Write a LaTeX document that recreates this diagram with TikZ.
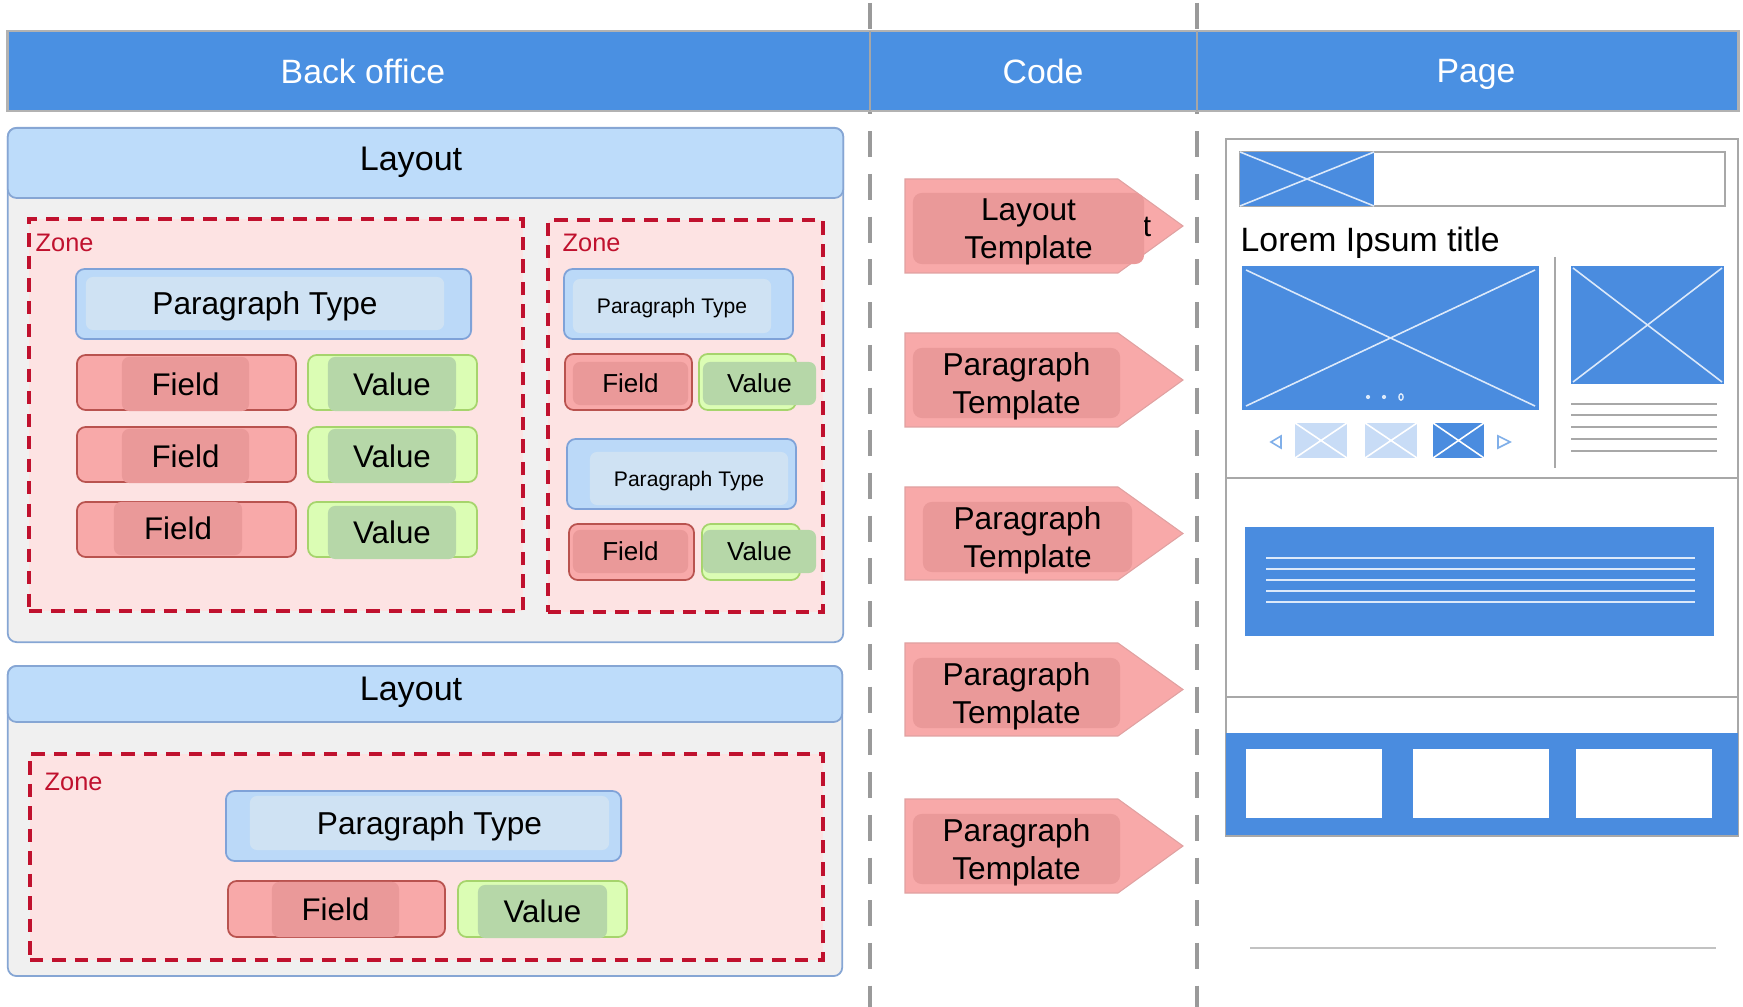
\documentclass[tikz,border=0pt]{standalone}
\usepackage{fontspec}
\setmainfont{Liberation Sans}
\usetikzlibrary{positioning}
\definecolor{hdrblue}{HTML}{4A90E2}
\definecolor{bodygray}{HTML}{F0F0F0}
\definecolor{layoutblue}{HTML}{BDDCFA}
\definecolor{layoutline}{HTML}{86A6D4}
\definecolor{zonepink}{HTML}{FDE3E3}
\definecolor{zonered}{HTML}{C0112E}
\definecolor{ptblue}{HTML}{BBD9F8}
\definecolor{ptlight}{HTML}{CFE2F3}
\definecolor{ptline}{HTML}{7FA2D8}
\definecolor{fieldpink}{HTML}{F8A9A9}
\definecolor{fielddark}{HTML}{EA9999}
\definecolor{fieldline}{HTML}{B9534F}
\definecolor{valuegreen}{HTML}{DBFDB4}
\definecolor{valuedark}{HTML}{B6D7A8}
\definecolor{valueline}{HTML}{A6D46C}
\definecolor{pageblue}{HTML}{4A8CDF}
\definecolor{thumblight}{HTML}{C8DCF6}
\definecolor{crossline}{HTML}{DCE9FA}
\definecolor{pagegray}{HTML}{A8A8A8}
\definecolor{coldashgray}{HTML}{9A9A9A}
\tikzset{
    coldash/.style = {-, line width=1.1pt, coldashgray, dash pattern=on 7.4pt off 4.75pt},
    colsep/.style = {-, line width=0.5pt, gray!70},
    hdrbar/.style = {rectangle, fill=hdrblue, draw=gray!60, line width=0.6pt, inner sep=0pt},
    hdrtext/.style = {text=white, text depth=0pt, font=\fontsize{9.6}{11}\selectfont},
    layoutbody/.style = {rectangle, rounded corners=2.5pt, fill=bodygray, draw=layoutline, line width=0.5pt, inner sep=0pt},
    layouthead/.style = {rectangle, rounded corners=2.5pt, fill=layoutblue, draw=layoutline, line width=0.5pt, inner sep=0pt},
    layouttitle/.style = {text=black, text depth=0pt, font=\fontsize{9.7}{11}\selectfont},
    zonebox/.style = {rectangle, fill=zonepink, draw=zonered, line width=1.1pt, dash pattern=on 3.8pt off 2.6pt, inner sep=0pt},
    zonelabel/.style = {anchor=west, text=zonered, font=\fontsize{7.2}{8}\selectfont, inner sep=0pt},
    ptouter/.style = {rectangle, rounded corners=2.5pt, fill=ptblue, draw=ptline, line width=0.5pt, inner sep=0pt},
    ptinner/.style = {rectangle, rounded corners=2pt, fill=ptlight, inner sep=0pt, text depth=0pt, font=\fontsize{9}{10}\selectfont},
    ptinners/.style = {rectangle, rounded corners=2pt, fill=ptlight, inner sep=0pt, text depth=0pt, font=\fontsize{6}{7}\selectfont},
    fieldouter/.style = {rectangle, rounded corners=2.5pt, fill=fieldpink, draw=fieldline, line width=0.5pt, inner sep=0pt},
    fieldinner/.style = {rectangle, rounded corners=2pt, fill=fielddark, inner sep=0pt, text depth=0pt, font=\fontsize{8.9}{10}\selectfont},
    fieldinners/.style = {rectangle, rounded corners=2pt, fill=fielddark, inner sep=0pt, text depth=0pt, font=\fontsize{7.4}{8}\selectfont},
    valueouter/.style = {rectangle, rounded corners=2.5pt, fill=valuegreen, draw=valueline, line width=0.5pt, inner sep=0pt},
    valueinner/.style = {rectangle, rounded corners=2pt, fill=valuedark, inner sep=0pt, text depth=0pt, font=\fontsize{8.9}{10}\selectfont},
    valueinners/.style = {rectangle, rounded corners=2pt, fill=valuedark, inner sep=0pt, text depth=0pt, font=\fontsize{7.4}{8}\selectfont},
    tplarrow/.style = {fill=fieldpink, draw=fieldpink!80!gray, line width=0.3pt},
    tplinner/.style = {rectangle, rounded corners=2.5pt, fill=fielddark, inner sep=0pt, align=center, text depth=0pt, font=\fontsize{9}{10.7}\selectfont},
    tpltext/.style = {inner sep=0pt, font=\fontsize{8.5}{10}\selectfont},
    pageline/.style = {draw=pagegray, line width=0.6pt},
    textline/.style = {-, draw=pagegray, line width=0.5pt},
    cross/.style = {-, draw=crossline, line width=0.45pt},
    loremtext/.style = {inner sep=0pt, font=\fontsize{9.6}{11}\selectfont}
}
\begin{document}
\begin{tikzpicture}[x=0.01cm, y=-0.01cm]
\useasboundingbox (0,0) rectangle (1743,1007);

% column separators
\draw[coldash] (870,3) -- (870,1007);
\draw[coldash] (1197,3) -- (1197,1007);

% header bar
\node[hdrbar, minimum width=17.30cm, minimum height=0.80cm] at (873,71) (hdr) {};
\draw[colsep] (870,31) -- (870,111);
\draw[colsep] (1197,31) -- (1197,111);
\node[hdrtext] at (363,71) (hdrback) {Back office};
\node[hdrtext] at (1043,71) (hdrcode) {Code};
\node[hdrtext] at (1476,71) (hdrpage) {Page};

% first layout
\node[layoutbody, minimum width=8.35cm, minimum height=5.14cm] at (425.5,385) (lay1) {};
\node[layouthead, minimum width=8.35cm, minimum height=0.70cm] at (425.5,163) (lay1h) {};
\node[layouttitle] at (411,159) (lay1t) {Layout};

\node[zonebox, minimum width=4.94cm, minimum height=3.92cm] at (276,415) (zone1) {};
\node[zonelabel] at (35,243) (zone1l) {Zone};
\node[ptouter, minimum width=3.95cm, minimum height=0.70cm] at (273.5,304) (pt1o) {};
\node[ptinner, minimum width=3.58cm, minimum height=0.53cm] at (265,303.5) (pt1) {Paragraph Type};

\node[fieldouter, minimum width=2.19cm, minimum height=0.55cm] at (186.5,382.5) (f1o) {};
\node[fieldinner, minimum width=1.27cm, minimum height=0.54cm] at (185.5,384) (f1) {Field};
\node[valueouter, minimum width=1.69cm, minimum height=0.55cm] at (392.5,382.5) (v1o) {};
\node[valueinner, minimum width=1.28cm, minimum height=0.54cm] at (392,384) (v1) {Value};

\node[fieldouter, minimum width=2.19cm, minimum height=0.55cm] at (186.5,454.5) (f2o) {};
\node[fieldinner, minimum width=1.27cm, minimum height=0.54cm] at (185.5,456) (f2) {Field};
\node[valueouter, minimum width=1.69cm, minimum height=0.55cm] at (392.5,454.5) (v2o) {};
\node[valueinner, minimum width=1.28cm, minimum height=0.54cm] at (392,456) (v2) {Value};

\node[fieldouter, minimum width=2.19cm, minimum height=0.55cm] at (186.5,529.5) (f3o) {};
\node[fieldinner, minimum width=1.28cm, minimum height=0.53cm] at (178,528.5) (f3) {Field};
\node[valueouter, minimum width=1.69cm, minimum height=0.55cm] at (392.5,529.5) (v3o) {};
\node[valueinner, minimum width=1.28cm, minimum height=0.53cm] at (392,532.5) (v3) {Value};

\node[zonebox, minimum width=2.75cm, minimum height=3.92cm] at (685.5,416) (zone2) {};
\node[zonelabel] at (562,243) (zone2l) {Zone};
\node[ptouter, minimum width=2.29cm, minimum height=0.70cm] at (678.5,304) (pt2o) {};
\node[ptinners, minimum width=1.98cm, minimum height=0.54cm] at (672,306) (pt2) {Paragraph Type};
\node[fieldouter, minimum width=1.27cm, minimum height=0.56cm] at (628.5,382) (f4o) {};
\node[fieldinners, minimum width=1.15cm, minimum height=0.43cm] at (630.5,383.5) (f4) {Field};
\node[valueouter, minimum width=0.97cm, minimum height=0.56cm] at (747.5,382) (v4o) {};
\node[valueinners, minimum width=1.13cm, minimum height=0.43cm] at (759.5,383.5) (v4) {Value};

\node[ptouter, minimum width=2.29cm, minimum height=0.70cm] at (681.5,474) (pt3o) {};
\node[ptinners, minimum width=1.98cm, minimum height=0.53cm] at (689,478.5) (pt3) {Paragraph Type};
\node[fieldouter, minimum width=1.25cm, minimum height=0.56cm] at (631.5,552) (f5o) {};
\node[fieldinners, minimum width=1.15cm, minimum height=0.43cm] at (630.5,551.5) (f5) {Field};
\node[valueouter, minimum width=0.98cm, minimum height=0.56cm] at (751,552) (v5o) {};
\node[valueinners, minimum width=1.13cm, minimum height=0.43cm] at (759.5,551.5) (v5) {Value};

% second layout
\node[layoutbody, minimum width=8.34cm, minimum height=3.10cm] at (425,821) (lay2) {};
\node[layouthead, minimum width=8.34cm, minimum height=0.56cm] at (425,694) (lay2h) {};
\node[layouttitle] at (411,689) (lay2t) {Layout};

\node[zonebox, minimum width=7.93cm, minimum height=2.06cm] at (426.5,857) (zone3) {};
\node[zonelabel] at (44,782) (zone3l) {Zone};
\node[ptouter, minimum width=3.95cm, minimum height=0.70cm] at (423.5,826) (pt4o) {};
\node[ptinner, minimum width=3.59cm, minimum height=0.54cm] at (429.5,823) (pt4) {Paragraph Type};
\node[fieldouter, minimum width=2.17cm, minimum height=0.56cm] at (336.5,909) (f6o) {};
\node[fieldinner, minimum width=1.27cm, minimum height=0.55cm] at (335.5,909.5) (f6) {Field};
\node[valueouter, minimum width=1.69cm, minimum height=0.56cm] at (542.5,909) (v6o) {};
\node[valueinner, minimum width=1.29cm, minimum height=0.53cm] at (542.5,911.5) (v6) {Value};

% templates
\fill[tplarrow] (905,179) -- (1118,179) -- (1183,226) -- (1118,273) -- (905,273) -- cycle;
\node[tpltext] at (1147,227) (tplt) {t};
\node[tplinner, minimum width=2.31cm, minimum height=0.71cm] at (1028.5,228.5) (tpl1) {Layout\\Template};

\fill[tplarrow] (905,333) -- (1118,333) -- (1183,380) -- (1118,427) -- (905,427) -- cycle;
\node[tplinner, minimum width=2.07cm, minimum height=0.70cm] at (1016.5,383) (tpl2) {Paragraph\\Template};

\fill[tplarrow] (905,487) -- (1118,487) -- (1183,533.5) -- (1118,580) -- (905,580) -- cycle;
\node[tplinner, minimum width=2.09cm, minimum height=0.70cm] at (1027.5,537) (tpl3) {Paragraph\\Template};

\fill[tplarrow] (905,643) -- (1118,643) -- (1183,689.5) -- (1118,736) -- (905,736) -- cycle;
\node[tplinner, minimum width=2.07cm, minimum height=0.70cm] at (1016.5,693) (tpl4) {Paragraph\\Template};

\fill[tplarrow] (905,799) -- (1118,799) -- (1183,846) -- (1118,893) -- (905,893) -- cycle;
\node[tplinner, minimum width=2.07cm, minimum height=0.70cm] at (1016.5,849) (tpl5) {Paragraph\\Template};

% page mock-up
\draw[pageline, fill=white] (1226,139) rectangle (1738,836);
\draw[pageline] (1240,152) rectangle (1725,206);
\fill[pageblue] (1240,152) rectangle (1374,206);
\draw[cross] (1240,152) -- (1374,206) (1240,206) -- (1374,152);
\node[loremtext, anchor=base west] at (1240,252) (lorem) {Lorem Ipsum title};

\fill[pageblue] (1242,266) rectangle (1539,410);
\draw[cross] (1246,270) -- (1535,406) (1246,406) -- (1535,270);
\fill[crossline] (1368,397) circle (0.6pt);
\fill[crossline] (1384,397) circle (0.6pt);
\draw[crossline, line width=0.4pt] (1401,397) ellipse (0.6pt and 0.9pt);

\draw[pageline] (1555,257) -- (1555,468);
\fill[pageblue] (1571,266) rectangle (1724,384);
\draw[cross] (1573,268) -- (1722,382) (1573,382) -- (1722,268);
\draw[textline] (1571,404) -- (1717,404);
\draw[textline] (1571,415) -- (1717,415);
\draw[textline] (1571,427) -- (1717,427);
\draw[textline] (1571,439) -- (1717,439);
\draw[textline] (1571,451) -- (1717,451);

\draw[draw=pageblue!70, line width=0.45pt] (1281,436) -- (1271,442) -- (1281,448) -- cycle;
\fill[thumblight] (1295,423) rectangle (1347,458);
\draw[cross, draw=white] (1295,423) -- (1347,458) (1295,458) -- (1347,423);
\fill[thumblight] (1365,423) rectangle (1417,458);
\draw[cross, draw=white] (1365,423) -- (1417,458) (1365,458) -- (1417,423);
\fill[pageblue] (1433,423) rectangle (1484,458);
\draw[cross, draw=white] (1433,423) -- (1484,458) (1433,458) -- (1484,423);
\draw[draw=pageblue!70, line width=0.45pt] (1498,436) -- (1510,442) -- (1498,448) -- cycle;

\draw[pageline] (1226,478) -- (1738,478);
\fill[pageblue] (1245,527) rectangle (1714,636);
\draw[cross] (1266,558) -- (1695,558);
\draw[cross] (1266,569) -- (1695,569);
\draw[cross] (1266,580) -- (1695,580);
\draw[cross] (1266,591) -- (1695,591);
\draw[cross] (1266,602) -- (1695,602);
\draw[pageline] (1226,697) -- (1738,697);

\fill[pageblue] (1226,733) rectangle (1738,836);
\draw[pageline] (1226,836) -- (1738,836);
\fill[white] (1246,749) rectangle (1382,818);
\fill[white] (1413,749) rectangle (1549,818);
\fill[white] (1576,749) rectangle (1712,818);
\draw[textline, draw=pagegray!70] (1250,948) -- (1716,948);

\end{tikzpicture}
\end{document}
